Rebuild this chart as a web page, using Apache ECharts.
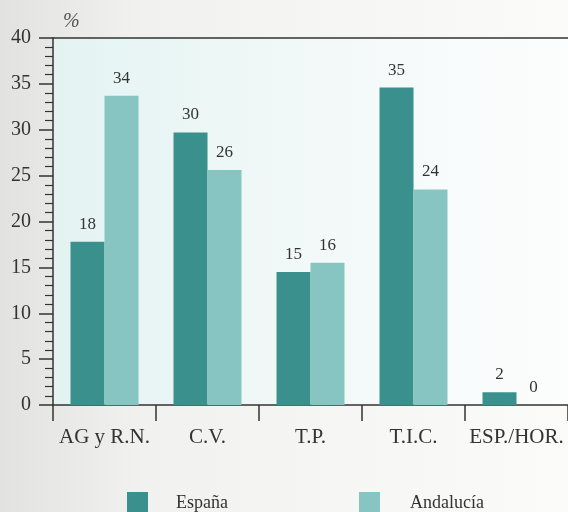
<!DOCTYPE html>
<html><head><meta charset="utf-8">
<script src="https://cdn.jsdelivr.net/npm/echarts@6/dist/echarts.min.js"></script>
<style>html,body{margin:0;padding:0;background:#f6f6f4}#c{width:568px;height:512px}</style>
</head><body><div id="c"></div>
<script>
const categories = ['AG y R.N.', 'C.V.', 'T.P.', 'T.I.C.', 'ESP./HOR.'];
const espana = [17.8, 29.7, 14.5, 34.6, 1.4];
const andalucia = [33.7, 25.6, 15.5, 23.5, 0];
const espanaLabels = ['18', '30', '15', '35', '2'];
const andaluciaLabels = ['34', '26', '16', '24', '0'];
const yTicks = [0, 5, 10, 15, 20, 25, 30, 35, 40];

const font = 'Liberation Serif';
const chart = echarts.init(document.getElementById('c'));
chart.setOption({
  animation: false,
  backgroundColor: new echarts.graphic.LinearGradient(0, 0, 1, 0, [
    {offset: 0, color: '#e2e2e0'}, {offset: 0.25, color: '#f1f1ef'}, {offset: 1, color: '#fbfbfa'}
  ]),
  textStyle: {fontFamily: font},
  grid: {
    left: 53, right: -1, top: 38, bottom: 107, show: true, borderWidth: 0,
    backgroundColor: new echarts.graphic.LinearGradient(0, 0, 1, 0, [
      {offset: 0, color: '#e3f3f2'}, {offset: 0.5, color: '#f2f9f8'}, {offset: 1, color: '#fcfdfd'}
    ])
  },
  graphic: [{type: 'text', left: 63, top: 12, style: {text: '%', font: 'italic 20px "Liberation Serif"', fill: '#555'}}],
  legend: [
    {data: ['España'], left: 127, top: 492, padding: 0, itemWidth: 21, itemHeight: 22, icon: 'rect',
     textStyle: {fontFamily: font, fontSize: 18, color: '#333', padding: [0, 0, 0, 23]}},
    {data: ['Andalucía'], left: 359, top: 492, padding: 0, itemWidth: 21, itemHeight: 22, icon: 'rect',
     textStyle: {fontFamily: font, fontSize: 18, color: '#333', padding: [0, 0, 0, 25]}}
  ],
  xAxis: [{
    type: 'category', data: categories,
    axisLine: {lineStyle: {color: '#333', width: 1.5}},
    axisTick: {show: true, length: 16, interval: 0, lineStyle: {color: '#333', width: 1.5}},
    axisLabel: {fontFamily: font, fontSize: 21, color: '#333', margin: 22, interval: 0}
  }, {
    type: 'category', data: categories, position: 'top',
    axisLine: {show: true, lineStyle: {color: '#333', width: 1.5}},
    axisTick: {show: false}, axisLabel: {show: false}
  }],
  yAxis: {
    type: 'value', min: yTicks[0], max: yTicks[yTicks.length - 1], interval: 5,
    axisLine: {show: true, lineStyle: {color: '#333', width: 1.5}},
    axisTick: {show: true, length: 14, lineStyle: {color: '#333', width: 1.5}},
    minorTick: {show: true, splitNumber: 5, length: 8, lineStyle: {color: '#333', width: 1.2}},
    splitLine: {show: false},
    axisLabel: {fontFamily: font, fontSize: 20, color: '#333', margin: 22}
  },
  series: [{
    name: 'España', type: 'bar', data: espana, barWidth: 34, barGap: '0%',
    itemStyle: {color: '#3a908c'},
    label: {show: true, position: 'top', distance: 9, fontFamily: font, fontSize: 17, color: '#333',
      formatter: p => espanaLabels[p.dataIndex]}
  }, {
    name: 'Andalucía', type: 'bar', data: andalucia, barWidth: 34,
    itemStyle: {color: '#86c5c2'},
    label: {show: true, position: 'top', distance: 9, fontFamily: font, fontSize: 17, color: '#333',
      formatter: p => andaluciaLabels[p.dataIndex]}
  }]
});
</script></body></html>
